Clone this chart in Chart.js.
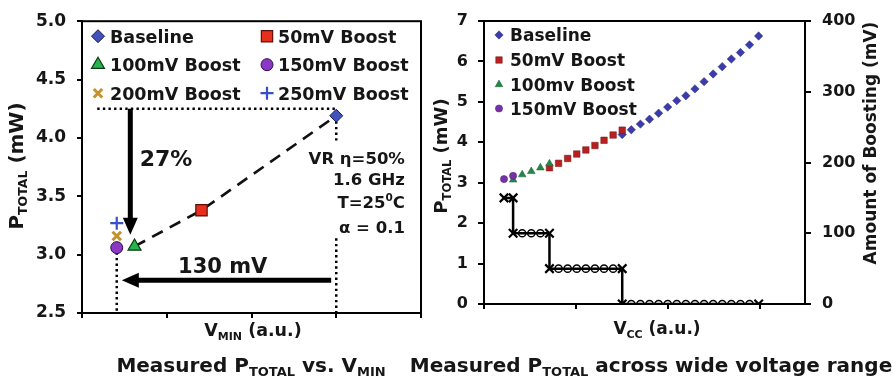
<!DOCTYPE html>
<html><head><meta charset="utf-8">
<script src="https://cdn.jsdelivr.net/npm/chart.js@4/dist/chart.umd.min.js"></script>
<style>
html,body{margin:0;padding:0;background:#fff;}
#wrap{position:relative;width:894px;height:379px;overflow:hidden;background:#fff;}
#c1box{position:absolute;left:0;top:0;width:445px;height:379px;}
#c2box{position:absolute;left:400px;top:0;width:494px;height:379px;}
</style></head><body>
<div id="wrap"><div id="c1box"><canvas id="c1"></canvas></div><div id="c2box"><canvas id="c2"></canvas></div></div>
<script>
// ---------- Left panel data: Measured P_TOTAL vs. V_MIN ----------
const leftSeries = ['Baseline', '50mV Boost', '100mV Boost', '150mV Boost', '200mV Boost', '250mV Boost'];
const leftVmin   = [3.0, 1.41, 0.62, 0.41, 0.41, 0.41];      // V_MIN (a.u.)
const leftPtotal = [4.19, 3.38, 3.07, 3.06, 3.16, 3.27];     // P_TOTAL (mW)
const leftTrendOrder = [2, 1, 0];                             // dashed line: 100mV -> 50mV -> Baseline
const leftYTicks = [2.5, 3.0, 3.5, 4.0, 4.5, 5.0];
const leftXTicks = [0, 1, 2, 3, 4];

// ---------- Right panel data: Measured P_TOTAL across wide voltage range ----------
const rightSeries = ['Baseline', '50mV Boost', '100mv Boost', '150mV Boost'];
const baseIdx      = [13, 14, 15, 16, 17, 18, 19, 20, 21, 22, 23, 24, 25, 26, 27, 28];
const basePtotal   = [4.19, 4.31, 4.45, 4.57, 4.72, 4.87, 5.03, 5.15, 5.32, 5.50, 5.69, 5.87, 6.06, 6.22, 6.41, 6.63];
const b50Idx       = [5, 6, 7, 8, 9, 10, 11, 12, 13];
const b50Ptotal    = [3.37, 3.48, 3.60, 3.71, 3.81, 3.92, 4.05, 4.18, 4.30];
const b100Idx      = [1, 2, 3, 4, 5];
const b100Ptotal   = [3.07, 3.20, 3.28, 3.37, 3.47];
const b150Idx      = [0, 1];
const b150Ptotal   = [3.09, 3.17];
const stepIdx      = [0, 1, 1, 2, 3, 4, 5, 5, 6, 7, 8, 9, 10, 11, 12, 13, 13, 14, 15, 16, 17, 18, 19, 20, 21, 22, 23, 24, 25, 26, 27, 28];
const stepBoostMv  = [150, 150, 100, 100, 100, 100, 100, 50, 50, 50, 50, 50, 50, 50, 50, 50, 0, 0, 0, 0, 0, 0, 0, 0, 0, 0, 0, 0, 0, 0, 0, 0];
const rightYTicks  = [0, 1, 2, 3, 4, 5, 6, 7];
const rightY1Ticks = [0, 100, 200, 300, 400];
const rightXTicks  = [-2.2, 7.9, 18, 28.1];

// ---------- styles ----------
const FONT = "'DejaVu Sans', sans-serif";
const INK = '#161616';
const fnt = s => `bold ${s}px ${FONT}`;

const leftStyles = [
  {ps:'rectRot',  r:6.5, bg:'#4152bb', bd:'#161b57', bw:1},
  {ps:'rect',     r:8,   bg:'#e6301d', bd:'#5c0d07', bw:1.2},
  {ps:'triangle', r:7.5, bg:'#27b44b', bd:'#0c3c17', bw:1.2},
  {ps:'circle',   r:6,   bg:'#8b38c4', bd:'#2c0e46', bw:1},
  {ps:'crossRot', r:6,   bg:'#c4922c', bd:'#c4922c', bw:3},
  {ps:'cross',    r:6.5, bg:'#3550c8', bd:'#3550c8', bw:2.2}
];
const rightStyles = [
  {ps:'rectRot',  r:4.2, bg:'#3b3caa', bd:'#2a2a80', bw:0.5},
  {ps:'rect',     r:4.6, bg:'#b52222', bd:'#7a1010', bw:0.5},
  {ps:'triangle', r:4.4, bg:'#23894a', bd:'#145a2c', bw:0.5},
  {ps:'circle',   r:3.6, bg:'#7532a8', bd:'#4a1a70', bw:0.5}
];

// annotation geometry in data units (left panel)
const leftNotes = {
  hDotted: {y:4.25, x0:0.18, x1:3.0},
  vDotted: [{x:3.0, y0:4.19, y1:3.96}, {x:3.0, y0:3.14, y1:2.5}, {x:0.41, y0:3.02, y1:2.5}],
  downArrow: {x:0.57, y0:4.25, y1:3.17},
  leftArrow: {y:2.78, x0:2.94, x1:0.47},
  pct: {x:0.68, y:3.83},
  mv: {x:1.66, y:2.905},
  cond: {x:3.81, y:[3.83, 3.645, 3.45, 3.24]}
};

// ---------- helpers ----------
function rich(ctx, parts, x, y, align) {
  let w = 0;
  for (const p of parts) { ctx.font = fnt(p.s); w += ctx.measureText(p.t).width; }
  let cx = align === 'center' ? x - w / 2 : align === 'right' ? x - w : x;
  ctx.textAlign = 'left'; ctx.textBaseline = 'alphabetic'; ctx.fillStyle = INK;
  for (const p of parts) { ctx.font = fnt(p.s); ctx.fillText(p.t, cx, y + (p.dy || 0)); cx += ctx.measureText(p.t).width; }
}
function richC(ctx, parts, cx, cy, align) { rich(ctx, parts, cx, cy + parts[0].s * 0.36, align || 'center'); }
function richRot(ctx, parts, cx, cy) {
  ctx.save(); ctx.translate(cx, cy); ctx.rotate(-Math.PI / 2);
  rich(ctx, parts, 0, parts[0].s * 0.36, 'center'); ctx.restore();
}
function marker(ctx, st, x, y) {
  ctx.save();
  ctx.fillStyle = st.bg; ctx.strokeStyle = st.bd; ctx.lineWidth = st.bw;
  Chart.helpers.drawPoint(ctx, {pointStyle: st.ps, radius: st.r, rotation: 0, borderWidth: st.bw}, x, y);
  ctx.restore();
}
function dotted(ctx, x0, y0, x1, y1) {
  ctx.save(); ctx.strokeStyle = '#000'; ctx.lineWidth = 2.5; ctx.setLineDash([2.4, 3.2]);
  ctx.beginPath(); ctx.moveTo(x0, y0); ctx.lineTo(x1, y1); ctx.stroke(); ctx.restore();
}
function arrow(ctx, x0, y0, x1, y1) {
  const ang = Math.atan2(y1 - y0, x1 - x0), hl = 17, hw = 7.5;
  const bx = x1 - Math.cos(ang) * hl, by = y1 - Math.sin(ang) * hl;
  ctx.save(); ctx.strokeStyle = '#000'; ctx.fillStyle = '#000'; ctx.lineWidth = 5;
  ctx.beginPath(); ctx.moveTo(x0, y0); ctx.lineTo(bx + Math.cos(ang) * 2, by + Math.sin(ang) * 2); ctx.stroke();
  ctx.beginPath(); ctx.moveTo(x1, y1);
  ctx.lineTo(bx - Math.sin(ang) * hw, by + Math.cos(ang) * hw);
  ctx.lineTo(bx + Math.sin(ang) * hw, by - Math.cos(ang) * hw);
  ctx.closePath(); ctx.fill(); ctx.restore();
}
const boxPlugin = {
  id: 'box',
  beforeDatasetsDraw(chart) {
    const a = chart.chartArea, ctx = chart.ctx;
    ctx.save(); ctx.strokeStyle = '#000'; ctx.lineWidth = 2;
    ctx.strokeRect(a.left, a.top, a.right - a.left, a.bottom - a.top); ctx.restore();
  }
};
const tickFixed = (vals) => (scale) => { scale.ticks = vals.map(v => ({value: v})); };

// ---------- Left chart ----------
const leftDecor = {
  id: 'leftDecor',
  beforeDatasetsDraw(chart) {
    const ctx = chart.ctx, xs = chart.scales.x, ys = chart.scales.y, n = leftNotes;
    const X = v => xs.getPixelForValue(v), Y = v => ys.getPixelForValue(v);
    dotted(ctx, X(n.hDotted.x0), Y(n.hDotted.y), X(n.hDotted.x1), Y(n.hDotted.y));
    n.vDotted.forEach(d => dotted(ctx, X(d.x), Y(d.y0), X(d.x), Y(d.y1)));
    arrow(ctx, X(n.downArrow.x), Y(n.downArrow.y0), X(n.downArrow.x), Y(n.downArrow.y1));
    arrow(ctx, X(n.leftArrow.x0), Y(n.leftArrow.y), X(n.leftArrow.x1), Y(n.leftArrow.y));
  },
  afterDraw(chart) {
    const ctx = chart.ctx, xs = chart.scales.x, ys = chart.scales.y, n = leftNotes, a = chart.chartArea;
    const X = v => xs.getPixelForValue(v), Y = v => ys.getPixelForValue(v);
    richC(ctx, [{t:'27%', s:22}], X(n.pct.x), Y(n.pct.y), 'left');
    richC(ctx, [{t:'130 mV', s:21}], X(n.mv.x), Y(n.mv.y), 'center');
    const cx = X(n.cond.x);
    richC(ctx, [{t:'VR η=50%', s:16.5}], cx, Y(n.cond.y[0]), 'right');
    richC(ctx, [{t:'1.6 GHz', s:16.5}], cx, Y(n.cond.y[1]), 'right');
    richC(ctx, [{t:'T=25', s:16.5}, {t:'0', s:10.5, dy:-7}, {t:'C', s:16.5}], cx, Y(n.cond.y[2]), 'right');
    richC(ctx, [{t:'α = 0.1', s:16.5}], cx, Y(n.cond.y[3]), 'right');
    // legend (2 columns x 3 rows)
    const colM = [a.left + 16, a.left + 185], colT = [a.left + 28, a.left + 196], rowY = [a.top + 15, a.top + 43.5, a.top + 72];
    leftSeries.forEach((name, i) => {
      const c = i % 2, r = Math.floor(i / 2);
      marker(ctx, leftStyles[i], colM[c], rowY[r]);
      richC(ctx, [{t:name, s:17.5}], colT[c], rowY[r], 'left');
    });
    // axis titles and caption
    richRot(ctx, [{t:'P', s:20}, {t:'TOTAL', s:12.5, dy:4}, {t:' (mW)', s:20}], 16, 166);
    richC(ctx, [{t:'V', s:17.5}, {t:'MIN', s:11, dy:4}, {t:' (a.u.)', s:17.5}], 253, 330);
    richC(ctx, [{t:'Measured P', s:20}, {t:'TOTAL', s:13, dy:4}, {t:' vs. V', s:20}, {t:'MIN', s:13, dy:4}], 251, 365);
  }
};

const leftDatasets = [{
  label: 'trend', data: leftTrendOrder.map(i => ({x: leftVmin[i], y: leftPtotal[i]})),
  showLine: true, borderColor: '#111', borderWidth: 2.6, borderDash: [12, 8], pointRadius: 0, order: 20
}].concat(leftSeries.map((name, i) => ({
  label: name, data: [{x: leftVmin[i], y: leftPtotal[i]}], showLine: false,
  pointStyle: leftStyles[i].ps, pointRadius: leftStyles[i].r, pointBackgroundColor: leftStyles[i].bg,
  pointBorderColor: leftStyles[i].bd, pointBorderWidth: leftStyles[i].bw, order: 10 - i
})));

new Chart(document.getElementById('c1'), {
  type: 'scatter',
  data: {datasets: leftDatasets},
  options: {
    responsive: true, maintainAspectRatio: false, animation: false,
    layout: {padding: {top: 16, right: 24, left: 0, bottom: 0}},
    plugins: {legend: {display: false}, tooltip: {enabled: false}},
    scales: {
      x: {type: 'linear', min: 0, max: 4, afterBuildTicks: tickFixed(leftXTicks),
          ticks: {display: false}, grid: {drawOnChartArea: false, tickLength: 5, color: '#000', lineWidth: 2},
          border: {color: '#000', width: 2}, afterFit: s => { s.height = 66; }},
      y: {type: 'linear', min: 2.5, max: 5, afterBuildTicks: tickFixed(leftYTicks),
          ticks: {color: INK, padding: 11, font: {family: FONT, weight: 'bold', size: 17}, callback: v => Number(v).toFixed(1)},
          grid: {drawOnChartArea: false, tickLength: 5, color: '#000', lineWidth: 2},
          border: {color: '#000', width: 2}, afterFit: s => { s.width = 82; }}
    }
  },
  plugins: [boxPlugin, leftDecor]
});

// ---------- Right chart ----------
const OX = 400; // canvas offset in page
const rightDecor = {
  id: 'rightDecor',
  afterDraw(chart) {
    const ctx = chart.ctx, a = chart.chartArea;
    const rowY = [a.top + 14, a.top + 39, a.top + 63.5, a.top + 87.5];
    rightSeries.forEach((name, i) => {
      marker(ctx, rightStyles[i], a.left + 15, rowY[i]);
      richC(ctx, [{t:name, s:17}], a.left + 26, rowY[i], 'left');
    });
    richRot(ctx, [{t:'P', s:18}, {t:'TOTAL', s:11.5, dy:4}, {t:' (mW)', s:18}], 440 - OX + 1, 156);
    richRot(ctx, [{t:'Amount of Boosting (mV)', s:17}], 870 - OX, 143);
    richC(ctx, [{t:'V', s:17}, {t:'CC', s:11, dy:4}, {t:' (a.u.)', s:17}], 657 - OX, 328);
    richC(ctx, [{t:'Measured P', s:20}, {t:'TOTAL', s:13, dy:4}, {t:' across wide voltage range', s:20}], 651 - OX, 365);
  }
};

const ptsOf = (xs, ys) => xs.map((x, i) => ({x: x, y: ys[i]}));
const stepIsEnd = stepBoostMv.map((v, i) => i === 0 || i === stepBoostMv.length - 1 || stepBoostMv[i - 1] !== v || stepBoostMv[i + 1] !== v);
const rightData = [ptsOf(baseIdx, basePtotal), ptsOf(b50Idx, b50Ptotal), ptsOf(b100Idx, b100Ptotal), ptsOf(b150Idx, b150Ptotal)];
const rightDatasets = rightSeries.map((name, i) => ({
  label: name, data: rightData[i], showLine: false, yAxisID: 'y',
  pointStyle: rightStyles[i].ps, pointRadius: rightStyles[i].r, pointBackgroundColor: rightStyles[i].bg,
  pointBorderColor: rightStyles[i].bd, pointBorderWidth: rightStyles[i].bw, order: 10 - i
}));
rightDatasets.push({
  label: 'Boost', data: ptsOf(stepIdx, stepBoostMv), showLine: true, yAxisID: 'y1',
  borderColor: '#000', borderWidth: 2.5,
  pointStyle: stepIsEnd.map(e => e ? 'crossRot' : 'circle'),
  pointRadius: stepIsEnd.map(e => e ? 6 : 3.6),
  pointBorderWidth: stepIsEnd.map(e => e ? 2.2 : 1.5),
  pointBorderColor: '#000', pointBackgroundColor: 'rgba(0,0,0,0)', order: 20
});

new Chart(document.getElementById('c2'), {
  type: 'scatter',
  data: {datasets: rightDatasets},
  options: {
    responsive: true, maintainAspectRatio: false, animation: false,
    layout: {padding: {top: 21, right: 0, left: 0, bottom: 0}},
    plugins: {legend: {display: false}, tooltip: {enabled: false}},
    scales: {
      x: {type: 'linear', min: -2.2, max: 33.1, afterBuildTicks: tickFixed(rightXTicks),
          ticks: {display: false}, grid: {drawOnChartArea: false, tickLength: 5, color: '#000', lineWidth: 2},
          border: {color: '#000', width: 2}, afterFit: s => { s.height = 75; }},
      y: {type: 'linear', position: 'left', min: 0, max: 7, afterBuildTicks: tickFixed(rightYTicks),
          ticks: {color: INK, padding: 10, font: {family: FONT, weight: 'bold', size: 16}},
          grid: {drawOnChartArea: false, tickLength: 6, color: '#000', lineWidth: 2},
          border: {color: '#000', width: 2}, afterFit: s => { s.width = 84; }},
      y1: {type: 'linear', position: 'right', min: 0, max: 400, afterBuildTicks: tickFixed(rightY1Ticks),
          ticks: {color: INK, padding: 11, font: {family: FONT, weight: 'bold', size: 16}},
          grid: {drawOnChartArea: false, tickLength: 6, color: '#000', lineWidth: 2},
          border: {color: '#000', width: 2}, afterFit: s => { s.width = 89; }}
    }
  },
  plugins: [boxPlugin, rightDecor]
});
</script>
</body></html>
